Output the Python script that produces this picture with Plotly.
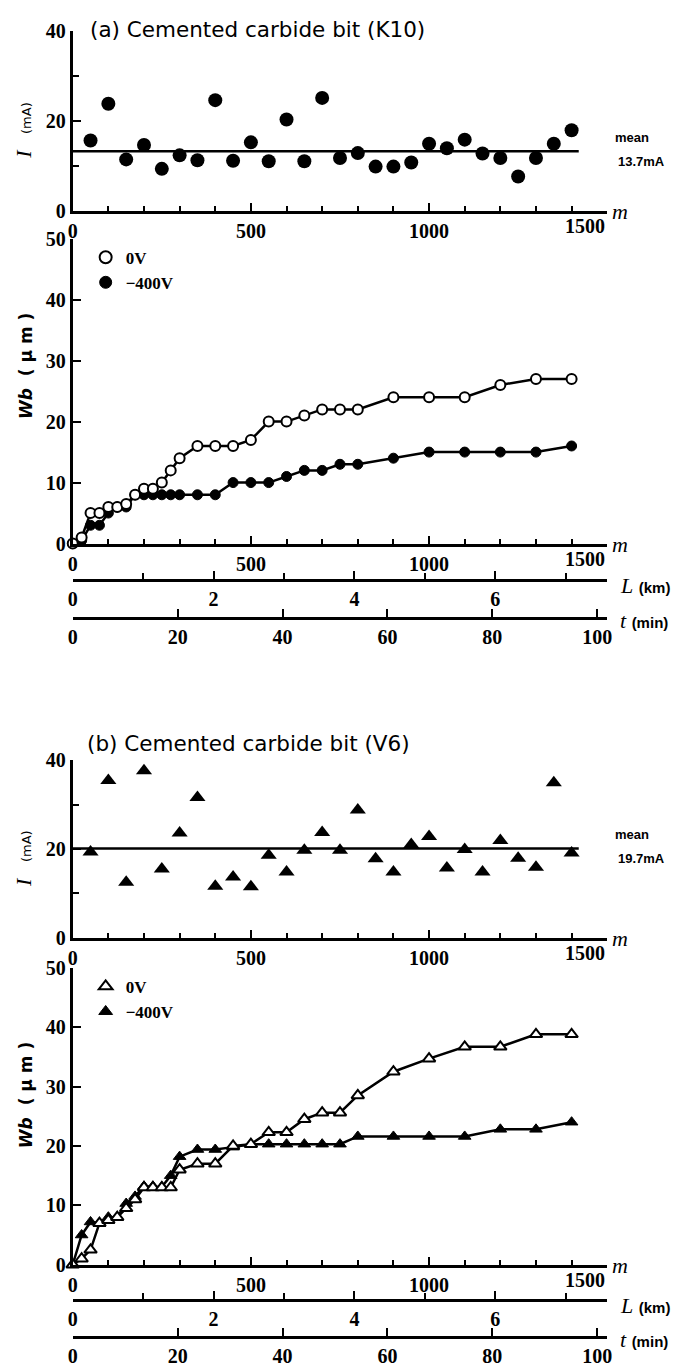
import plotly.graph_objects as go

W, H = 686, 1368

# Window-pixel positions (as read on the reference) are mapped to figure fractions,
# with a small correction for where the page lands in the photographed window.
SX, OX = 0.99, 11.0
SY, OY = 0.981, 21.0

def fx(p):
    return ((p - OX) / SX) / W

def fy(p):
    return 1 - ((p - OY) / SY) / H

# ---------------- data ----------------
m_I = [50, 100, 150, 200, 250, 300, 350, 400, 450, 500, 550, 600, 650, 700,
       750, 800, 850, 900, 950, 1000, 1050, 1100, 1150, 1200, 1250, 1300, 1350, 1400]
I_a = [15.6, 23.8, 11.4, 14.6, 9.3, 12.3, 11.2, 24.6, 11.1, 15.2, 11.0, 20.3, 11.0, 25.1,
       11.7, 12.8, 9.8, 9.8, 10.7, 14.9, 13.9, 15.8, 12.7, 11.7, 7.6, 11.7, 14.9, 17.9]
I_b = [19.3, 35.4, 12.5, 37.6, 15.5, 23.6, 31.6, 11.6, 13.7, 11.5, 18.6, 14.8, 19.7, 23.7,
       19.7, 28.8, 17.8, 14.8, 21.0, 22.8, 15.7, 19.9, 14.8, 21.9, 17.9, 15.9, 34.9, 19.1]

mean_x = [0, 1420]
mean_a = [13.2, 13.2]
mean_b = [20.1, 20.1]
mean_label_a = "13.7mA"
mean_label_b = "19.7mA"

m_W = [0, 25, 50, 75, 100, 125, 150, 175, 200, 225, 250, 275, 300, 350, 400, 450,
       500, 550, 600, 650, 700, 750, 800, 900, 1000, 1100, 1200, 1300, 1400]
Wa_0V = [0, 1, 5, 5, 6, 6, 6.5, 8, 9, 9, 10, 12, 14, 16, 16, 16,
         17, 20, 20, 21, 22, 22, 22, 24, 24, 24, 26, 27, 27]
Wa_400V = [0, 0.5, 3, 3, 5, 6, 6, 8, 8, 8, 8, 8, 8, 8, 8, 10,
           10, 10, 11, 12, 12, 13, 13, 14, 15, 15, 15, 15, 16]
Wb_0V = [0, 1, 2.5, 7, 7.5, 8, 9.5, 11, 13, 13, 13, 13, 16, 17, 17, 20,
         20.3, 22.3, 22.3, 24.5, 25.6, 25.6, 28.5, 32.5, 34.7, 36.7, 36.7, 38.8, 38.8]
Wb_400V = [0, 5, 7.2, 7, 8, 8, 10.3, 11.5, 13.2, 13.2, 13.1, 15, 18.2, 19.4, 19.4, 19.8,
           20.3, 20.3, 20.3, 20.3, 20.3, 20.3, 21.6, 21.6, 21.6, 21.6, 22.8, 22.8, 24]

m_ticks = [0, 500, 1000, 1500]
m_ticktext = ["0", "500", "1000", ""]   # "1500" is set as its own label, right-aligned
m_last = "1500"
I_ticks = [0, 20, 40]
W_ticks = [0, 10, 20, 30, 40, 50]
L_ticks = [0, 2, 4, 6]
t_ticks = [0, 20, 40, 60, 80, 100]

# ---------------- layout geometry (window pixels) ----------------
X0, X1 = 71, 608
panels = {
    "a": dict(I_top=33, I_bot=212, W_top=240, W_bot=544, L=580, t=618, title_y=15),
    "b": dict(I_top=760, I_bot=937, W_top=967, W_bot=1263, L=1298, t=1335, title_y=743),
}

TICKFONT = dict(family="Liberation Serif", size=20, color="black", weight="bold")
BLACK = "black"

def base_axis():
    return dict(showline=True, linecolor=BLACK, linewidth=3, ticks="inside",
                tickcolor=BLACK, tickwidth=2, ticklen=8, showgrid=False,
                zeroline=False, tickfont=TICKFONT, fixedrange=True)

fig = go.Figure()
layout = dict(width=W, height=H, margin=dict(l=0, r=0, t=0, b=0),
              paper_bgcolor="white", plot_bgcolor="rgba(0,0,0,0)",
              showlegend=True, annotations=[])

def add_ann(text, x, y, size=14, family="DejaVu Sans", xanchor="left", angle=0,
            weight="normal"):
    layout["annotations"].append(dict(
        text=text, x=fx(x), y=min(fy(y), 0.992),
        xref="paper", yref="paper", showarrow=False,
        xanchor=xanchor, yanchor="middle", textangle=angle,
        font=dict(family=family, size=size, color=BLACK, weight=weight)))

specs = [
    ("a", 1, I_a, "circle", Wa_0V, Wa_400V, "circle", mean_a, mean_label_a,
     "(a) Cemented carbide bit (K10)", 86, "legend"),
    ("b", 5, I_b, "triangle-up", Wb_0V, Wb_400V, "triangle-up", mean_b, mean_label_b,
     "(b) Cemented carbide bit (V6)", 83, "legend2"),
]

for key, n, I_vals, I_sym, w0, w400, w_sym, mean_vals, mean_lab, title, title_x, leg in specs:
    p = panels[key]
    sfx = str(n) if n > 1 else ""
    xI, yI = f"x{sfx}", f"y{sfx}"
    xW, yW = f"x{n+1}", f"y{n+1}"
    xL, xT = n + 2, n + 3

    # I panel axes
    ax = base_axis()
    ax.update(domain=[fx(X0), fx(X1)], range=[0, 1500], tickvals=m_ticks, ticktext=m_ticktext,
              anchor=yI,
              minor=dict(dtick=100, tick0=0, ticks="inside", ticklen=5, tickwidth=2, tickcolor=BLACK))
    layout[f"xaxis{sfx}"] = ax
    ay = base_axis()
    ay.update(domain=[fy(p["I_bot"]), fy(p["I_top"])], range=[0, 40], tickvals=I_ticks, anchor=xI,
              minor=dict(dtick=10, tick0=0, ticks="inside", ticklen=6, tickwidth=2, tickcolor=BLACK))
    layout[f"yaxis{sfx}"] = ay

    # Wb panel axes
    ax = base_axis()
    ax.update(domain=[fx(X0), fx(X1)], range=[0, 1500], tickvals=m_ticks, ticktext=m_ticktext,
              anchor=yW,
              minor=dict(dtick=100, tick0=0, ticks="inside", ticklen=5, tickwidth=2, tickcolor=BLACK))
    layout[f"xaxis{n+1}"] = ax
    ay = base_axis()
    ay.update(domain=[fy(p["W_bot"]), fy(p["W_top"])], range=[0, 50], tickvals=W_ticks, anchor=xW)
    layout[f"yaxis{n+1}"] = ay

    # L (km) axis
    ax = base_axis()
    ax.update(domain=[fx(X0), fx(X1)], range=[0, 7.59], tickvals=L_ticks, anchor="free",
              position=fy(p["L"]),
              minor=dict(dtick=1, tick0=0, ticks="inside", ticklen=6, tickwidth=2, tickcolor=BLACK))
    layout[f"xaxis{xL}"] = ax
    # t (min) axis
    ax = base_axis()
    ax.update(domain=[fx(X0), fx(X1)], range=[0, 101.9], tickvals=t_ticks, anchor="free",
              position=fy(p["t"]))
    layout[f"xaxis{xT}"] = ax

    for ix in (xL, xT):
        fig.add_trace(go.Scatter(x=[None], y=[None], xaxis=f"x{ix}", yaxis=yW,
                                 showlegend=False, hoverinfo="skip"))

    # I scatter + mean line
    fig.add_trace(go.Scatter(x=mean_x, y=mean_vals, mode="lines", xaxis=xI, yaxis=yI,
                             line=dict(color=BLACK, width=2.5), showlegend=False, cliponaxis=False))
    fig.add_trace(go.Scatter(x=m_I, y=I_vals, mode="markers", xaxis=xI, yaxis=yI,
                             marker=dict(symbol=I_sym, size=14, color=BLACK),
                             showlegend=False, cliponaxis=False))

    # Wb series
    msize = 10 if w_sym == "circle" else 11
    fig.add_trace(go.Scatter(x=m_W, y=w400, mode="lines+markers", xaxis=xW, yaxis=yW,
                             line=dict(color=BLACK, width=2.5),
                             marker=dict(symbol=w_sym, size=msize, color=BLACK,
                                         line=dict(color=BLACK, width=1)),
                             showlegend=False, cliponaxis=False))
    fig.add_trace(go.Scatter(x=m_W, y=w0, mode="lines+markers", xaxis=xW, yaxis=yW,
                             line=dict(color=BLACK, width=2.5),
                             marker=dict(symbol=w_sym, size=msize, color="white",
                                         line=dict(color=BLACK, width=2)),
                             showlegend=False, cliponaxis=False))
    # legend entries
    fig.add_trace(go.Scatter(x=[None], y=[None], mode="markers", xaxis=xW, yaxis=yW,
                             name="0V", legend=leg,
                             marker=dict(symbol=w_sym, size=12, color="white",
                                         line=dict(color=BLACK, width=2))))
    fig.add_trace(go.Scatter(x=[None], y=[None], mode="markers", xaxis=xW, yaxis=yW,
                             name="\u2212400V", legend=leg,
                             marker=dict(symbol=w_sym, size=12, color=BLACK,
                                         line=dict(color=BLACK, width=1))))
    layout[leg] = dict(x=fx(84), y=fy(p["W_top"] + 1), xanchor="left", yanchor="top",
                       bgcolor="rgba(0,0,0,0)", itemsizing="trace", tracegroupgap=0,
                       font=dict(family="Liberation Serif", size=17, color=BLACK, weight="bold"))

    # right-aligned "1500" labels
    for xa, ybot in ((xI, p["I_bot"]), (xW, p["W_bot"])):
        layout["annotations"].append(dict(
            text=m_last, x=1500, xref=xa, y=fy(ybot + 15), yref="paper", showarrow=False,
            xanchor="right", yanchor="middle", font=TICKFONT))

    # text annotations
    add_ann(title, title_x, p["title_y"], size=21.5, family="DejaVu Sans")
    add_ann("<i>I</i>   <span style='font-size:13px;font-family:DejaVu Sans'>(mA)</span>",
            22, (p["I_top"] + p["I_bot"]) / 2 + 9, size=22, family="Liberation Serif",
            xanchor="center", angle=-90)
    add_ann("<i>Wb</i>  ( μ m )", 24, p["W_top"] + 127, size=17, family="DejaVu Sans",
            xanchor="center", angle=-90, weight="bold")
    mean_y = p["I_top"] + (40 - mean_vals[0]) / 40 * (p["I_bot"] - p["I_top"])
    add_ann("mean", 614, mean_y - 14, size=13, family="Liberation Sans", weight="bold")
    add_ann(mean_lab, 617, mean_y + 10, size=13, family="Liberation Sans", weight="bold")
    add_ann("<i>m</i>", 611, p["I_bot"] + 1, size=22, family="Liberation Serif")
    add_ann("<i>m</i>", 611, p["W_bot"] + 1, size=22, family="Liberation Serif")
    add_ann("<i>L</i> <span style='font-size:15px;font-family:Liberation Sans;font-weight:bold'>(km)</span>",
            619, p["L"] + 6, size=22, family="Liberation Serif")
    add_ann("<i>t</i> <span style='font-size:15px;font-family:Liberation Sans;font-weight:bold'>(min)</span>",
            619, p["t"] + 3, size=22, family="Liberation Serif")

fig.update_layout(**layout)
fig.write_html("out.html")
